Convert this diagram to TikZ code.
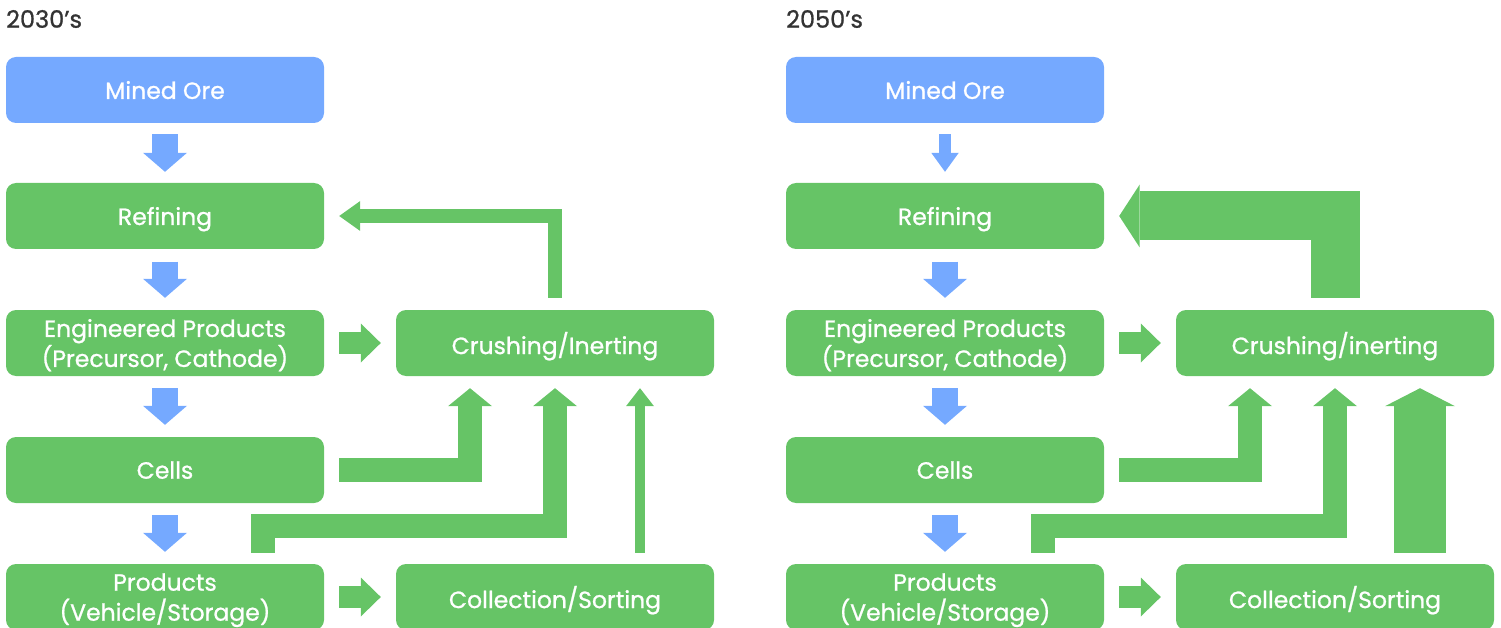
\documentclass[tikz,border=0pt]{standalone}
\usepackage{fontspec}
\setmainfont{Poppins}
\newfontfamily\medfont{Poppins}[FakeBold=0.9]
\usetikzlibrary{arrows.meta,calc}
\definecolor{boxgreen}{HTML}{66C466}
\definecolor{boxblue}{HTML}{75A9FF}
\definecolor{headgray}{HTML}{333333}
\begin{document}
\begin{tikzpicture}[x=1pt,y=-1pt,
  box/.style={rectangle, rounded corners=10pt, minimum width=318pt, minimum height=66pt, inner sep=0pt, text=white, font=\medfont\fontsize{23.5}{30}\selectfont, align=center, text depth=0pt},
  gbox/.style={box, fill=boxgreen},
  bbox/.style={box, fill=boxblue},
  header/.style={anchor=west, inner sep=0pt, text=headgray, font=\medfont\fontsize{24}{26}\selectfont},
  conn/.style={line join=miter, line cap=butt},
  bluearrow/.style={conn, draw=boxblue, line width=26pt, -{Triangle[width=44pt,length=19pt,line width=0pt]}},
  thinblue/.style={conn, draw=boxblue, line width=11.5pt, -{Triangle[width=27.5pt,length=19pt,line width=0pt]}},
  sidearrow/.style={conn, draw=boxgreen, line width=22pt, -{Triangle[width=39pt,length=20pt,line width=0pt]}},
  loopsmall/.style={conn, draw=boxgreen, line width=14pt, -{Triangle[width=30pt,length=21pt,line width=0pt]}},
  loopbig/.style={conn, draw=boxgreen, line width=49pt, -{Triangle[width=63pt,length=20.5pt,line width=0pt]}},
  elbow/.style={conn, draw=boxgreen, line width=24pt, -{Triangle[width=44pt,length=18pt,line width=0pt]}},
  thinup/.style={conn, draw=boxgreen, line width=10pt, -{Triangle[width=28pt,length=18pt,line width=0pt]}},
  bigup/.style={conn, draw=boxgreen, line width=52pt, -{Triangle[width=70pt,length=18pt,line width=0pt]}}
]
\useasboundingbox (0,0) rectangle (1501,628);

% ---------- 2030's ----------
\node[header] (h1) at (6,19) {2030’s};
\node[bbox] (mo1) at (165,90) {Mined Ore};
\node[gbox] (re1) at (165,216) {Refining};
\node[gbox] (en1) at (165,343) {Engineered Products\\(Precursor, Cathode)};
\node[gbox] (ce1) at (165,470) {Cells};
\node[gbox] (pr1) at (165,597) {Products\\(Vehicle/Storage)};
\node[gbox] (cr1) at (555,343) {Crushing/Inerting};
\node[gbox] (co1) at (555,597) {Collection/Sorting};

\draw[bluearrow] ($(mo1.south)+(0,11)$) -- ($(re1.north)+(0,-11)$);
\draw[bluearrow] ($(re1.south)+(0,12.5)$) -- ($(en1.north)+(0,-12)$);
\draw[bluearrow] ($(en1.south)+(0,12)$) -- ($(ce1.north)+(0,-12)$);
\draw[bluearrow] ($(ce1.south)+(0,12)$) -- ($(pr1.north)+(0,-12)$);
\draw[sidearrow] ($(en1.east)+(15,0)$) -- ($(cr1.west)+(-15,0)$);
\draw[sidearrow] ($(pr1.east)+(15,0)$) -- ($(co1.west)+(-15,0)$);
\draw[loopsmall] ($(cr1.north)+(0,-12)$) |- ($(re1.east)+(15,0)$);
\draw[elbow] ($(ce1.east)+(15,0)$) -| ($(cr1.south)+(-85,12)$);
\draw[elbow] ($(pr1.north)+(98,-11.3)$) -- ++(0,-26.2) -| ($(cr1.south)+(0,12)$);
\draw[thinup] ($(co1.north)+(85,-11.3)$) -- ($(cr1.south)+(85,12)$);

% ---------- 2050's ----------
\node[header] (h2) at (786,19) {2050’s};
\node[bbox] (mo2) at (945,90) {Mined Ore};
\node[gbox] (re2) at (945,216) {Refining};
\node[gbox] (en2) at (945,343) {Engineered Products\\(Precursor, Cathode)};
\node[gbox] (ce2) at (945,470) {Cells};
\node[gbox] (pr2) at (945,597) {Products\\(Vehicle/Storage)};
\node[gbox] (cr2) at (1335,343) {Crushing/inerting};
\node[gbox] (co2) at (1335,597) {Collection/Sorting};

\draw[thinblue] ($(mo2.south)+(0,11)$) -- ($(re2.north)+(0,-11)$);
\draw[bluearrow] ($(re2.south)+(0,12.5)$) -- ($(en2.north)+(0,-12)$);
\draw[bluearrow] ($(en2.south)+(0,12)$) -- ($(ce2.north)+(0,-12)$);
\draw[bluearrow] ($(ce2.south)+(0,12)$) -- ($(pr2.north)+(0,-12)$);
\draw[sidearrow] ($(en2.east)+(15,0)$) -- ($(cr2.west)+(-15,0)$);
\draw[sidearrow] ($(pr2.east)+(15,0)$) -- ($(co2.west)+(-15,0)$);
\draw[loopbig] ($(cr2.north)+(0,-12)$) |- ($(re2.east)+(15,0)$);
\draw[elbow] ($(ce2.east)+(15,0)$) -| ($(cr2.south)+(-85,12)$);
\draw[elbow] ($(pr2.north)+(98,-11.3)$) -- ++(0,-26.2) -| ($(cr2.south)+(0,12)$);
\draw[bigup] ($(co2.north)+(85,-11.3)$) -- ($(cr2.south)+(85,12)$);
\end{tikzpicture}
\end{document}
